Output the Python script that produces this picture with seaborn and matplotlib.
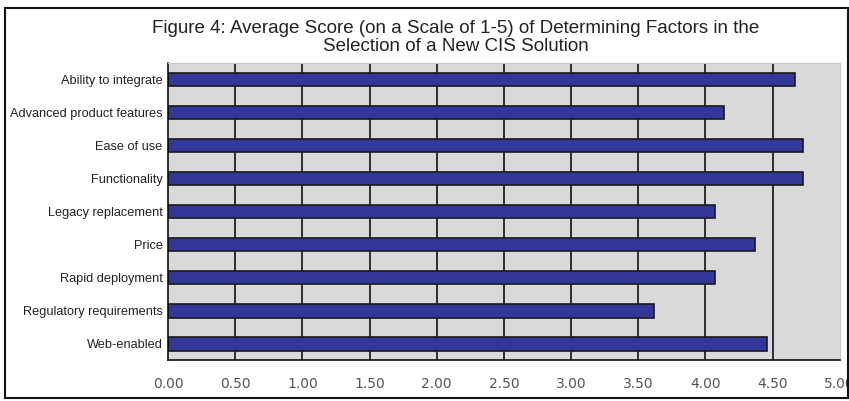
import numpy as np
import pandas as pd
import matplotlib.pyplot as plt
import seaborn as sns
from matplotlib.patches import Rectangle

factors = ['Ability to integrate', 'Advanced product features', 'Ease of use',
           'Functionality', 'Legacy replacement', 'Price', 'Rapid deployment',
           'Regulatory requirements', 'Web-enabled']
scores = [4.67, 4.14, 4.73, 4.73, 4.07, 4.37, 4.07, 3.62, 4.46]
xticks = [0, 0.5, 1, 1.5, 2, 2.5, 3, 3.5, 4, 4.5, 5]

df = pd.DataFrame({'factor': factors, 'score': scores})

sns.set_style('white')
plt.rcParams['font.family'] = ['Liberation Sans', 'DejaVu Sans']

fig = plt.figure(figsize=(8.49, 4.01), dpi=100)
ax = fig.add_axes([0.198, 0.102, 0.791, 0.741])
ax.set_facecolor('#d9d9d9')

sns.barplot(data=df, x='score', y='factor', orient='h', color='#34379a',
            saturation=1, edgecolor='#1a1a1a', linewidth=1.2, width=0.42, ax=ax)

ax.set_xlim(0, 5)
ax.set_ylim(len(factors) - 0.5, -0.5)
ax.set_xticks(xticks)
ax.set_xticklabels([f'{v:.2f}' for v in xticks], family='DejaVu Sans',
                   fontsize=10, color='#555555')
for v in xticks[1:-1]:
    ax.axvline(v, color='#111111', lw=1.2, zorder=0)
ax.set_axisbelow(True)

ax.set_yticks(range(len(factors)))
ax.set_yticklabels(factors, fontsize=9.2, color='#222222')
ax.set_yticks(np.arange(-0.5, len(factors), 1), minor=True)
ax.tick_params(axis='y', which='major', length=0, pad=4)
ax.tick_params(axis='y', which='minor', length=5, width=1.2, color='#111111',
               direction='out')
ax.tick_params(axis='x', length=5, width=1.2, color='#111111', direction='out', pad=7)

ax.set_xlabel('')
ax.set_ylabel('')
for s in ['top', 'right']:
    ax.spines[s].set_color('#c8c8c8')
ax.spines['left'].set_color('#111111')
ax.spines['left'].set_linewidth(1.2)
ax.spines['bottom'].set_color('#111111')
ax.spines['bottom'].set_linewidth(1.2)

fig.text(0.537, 0.907, 'Figure 4: Average Score (on a Scale of 1-5) of Determining Factors in the\nSelection of a New CIS Solution',
         ha='center', va='center', fontsize=13.5, color='#222222', linespacing=1.05)

fig.patches.append(Rectangle((0.006, 0.007), 0.993, 0.973, transform=fig.transFigure,
                             fill=False, edgecolor='#111111', lw=1.5))

fig.savefig('out.png', dpi=100)
